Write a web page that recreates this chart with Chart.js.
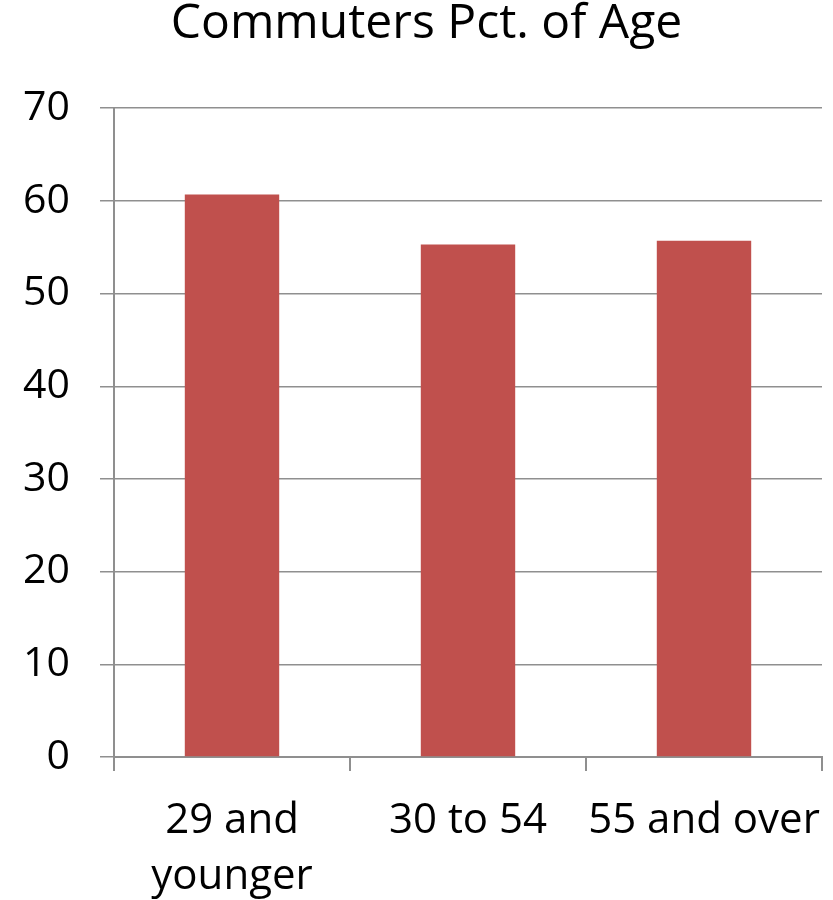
<!DOCTYPE html>
<html>
<head>
<meta charset="utf-8">
<script src="https://cdn.jsdelivr.net/npm/chart.js@4"></script>
<style>
  html, body { margin: 0; padding: 0; background: #fff; }
  #wrap { width: 833px; height: 900px; }
</style>
</head>
<body>
<div id="wrap"><canvas id="c" width="833" height="900"></canvas></div>
<script>
const categories = [["29 and", "younger"], "30 to 54", "55 and over"];
const commutersPct = [60.7, 55.3, 55.7];
const yTicks = [0, 10, 20, 30, 40, 50, 60, 70];
const chartTitle = "Commuters Pct. of Age";

const FONT = "'Open Sans', 'Noto Sans', sans-serif";
const GRID = "#8f8f8f";

const titleShift = {
  id: "titleShift",
  afterLayout(chart) {
    const tb = chart.titleBlock;
    if (tb) { tb.left = 31; tb.right = 822; }
  }
};

new Chart(document.getElementById("c"), {
  type: "bar",
  data: {
    labels: categories,
    datasets: [{
      label: "Commuters",
      data: commutersPct,
      backgroundColor: "#c0504d",
      borderWidth: 0,
      categoryPercentage: 1,
      barPercentage: 0.4
    }]
  },
  plugins: [titleShift],
  options: {
    responsive: false,
    animation: false,
    devicePixelRatio: 1,
    layout: { padding: { left: 0, right: 11, top: 0, bottom: 0 } },
    plugins: {
      legend: { display: false },
      tooltip: { enabled: false },
      title: {
        display: true,
        text: chartTitle,
        color: "#000",
        font: { family: FONT, size: 48, weight: "normal", lineHeight: 0.9 },
        padding: { top: 3, bottom: 62 }
      }
    },
    scales: {
      y: {
        min: 0,
        max: 70,
        afterBuildTicks: (s) => { s.ticks = yTicks.map(v => ({ value: v })); },
        ticks: {
          color: "#000",
          font: { family: FONT, size: 41 },
          padding: 30
        },
        grid: {
          color: GRID,
          lineWidth: 1.5,
          tickLength: 14,
          drawTicks: true
        },
        border: { display: true, color: GRID, width: 2 },
        afterFit: (s) => { s.width = 114; }
      },
      x: {
        ticks: {
          color: "#000",
          font: { family: FONT, size: 42, lineHeight: 1.33 },
          padding: 22,
          maxRotation: 0,
          autoSkip: false
        },
        grid: {
          offset: true,
          drawOnChartArea: false,
          drawTicks: true,
          tickLength: 14,
          color: GRID,
          lineWidth: 2
        },
        border: { display: true, color: GRID, width: 2 },
        afterFit: (s) => { s.height = 143; s.paddingLeft = 0; s.paddingRight = 0; }
      }
    }
  }
});
</script>
</body>
</html>
